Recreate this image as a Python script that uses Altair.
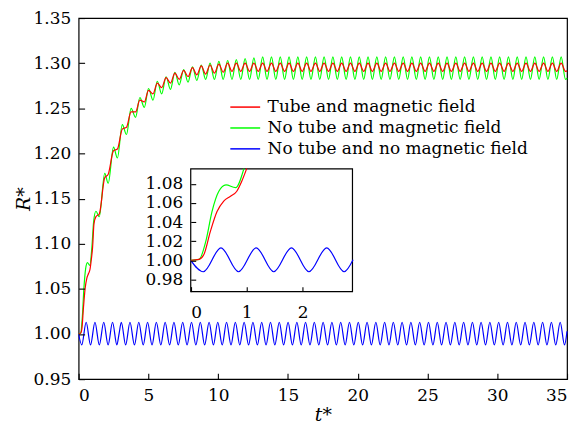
import altair as alt
import pandas as pd

# ---------------- data ----------------
series_names = ["Tube and magnetic field", "No tube and magnetic field", "No tube and no magnetic field"]
series_colors = ["#ff0000", "#00ff00", "#0000ff"]

x_ticks = [0, 5, 10, 15, 20, 25, 30, 35]
y_ticks = [0.95, 1.00, 1.05, 1.10, 1.15, 1.20, 1.25, 1.30, 1.35]
inset_x_ticks = [0, 1, 2]
inset_y_ticks = [0.98, 1.00, 1.02, 1.04, 1.06, 1.08]
inset_t_domain = [0.0, 2.89]
inset_R_domain = [0.9672, 1.0956]

# red (tube and magnetic field) - early rise
red_t_start = [0.0, 0.15, 0.235, 0.35, 0.47, 0.59, 0.71, 0.82, 0.91, 1.00, 1.10]
red_R_start = [1.000, 1.001, 1.006, 1.030, 1.051, 1.062, 1.067, 1.072, 1.0825, 1.096, 1.122]

# green (no tube and magnetic field) - early rise
green_t_start = [0.0, 0.15, 0.27, 0.38, 0.50, 0.63, 0.80, 0.95, 1.08]
green_R_start = [1.000, 1.001, 1.020, 1.051, 1.072, 1.079, 1.076, 1.096, 1.125]

# times of the peaks / troughs of the red and green curves
t_osc = [
    1.24, 1.48, 1.87, 2.12, 2.50, 2.78, 3.13, 3.43, 3.76, 4.08,
    4.39, 4.71, 5.01, 5.33, 5.64, 5.95, 6.27, 6.58, 6.90, 7.21,
    7.53, 7.84, 8.16, 8.47, 8.79, 9.10, 9.42, 9.73, 10.05, 10.36,
    10.68, 10.99, 11.30, 11.62, 11.93, 12.25, 12.56, 12.87, 13.19, 13.50,
    13.82, 14.13, 14.45, 14.76, 15.08, 15.39, 15.71, 16.02, 16.34, 16.65,
    16.97, 17.28, 17.59, 17.91, 18.22, 18.54, 18.85, 19.17, 19.48, 19.80,
    20.11, 20.43, 20.74, 21.05, 21.37, 21.68, 22.00, 22.31, 22.63, 22.94,
    23.26, 23.57, 23.88, 24.20, 24.51, 24.83, 25.14, 25.46, 25.77, 26.09,
    26.40, 26.71, 27.03, 27.34, 27.66, 27.97, 28.29, 28.60, 28.92, 29.23,
    29.55, 29.86, 30.17, 30.49, 30.80, 31.12, 31.43, 31.75, 32.06, 32.38,
    32.69, 33.00, 33.32, 33.63, 33.95, 34.26, 34.58, 34.89, 35.00,
]

green_R_osc = [
    1.136, 1.130, 1.178, 1.167, 1.207, 1.195, 1.232, 1.221, 1.250, 1.240,
    1.262, 1.251, 1.272, 1.259, 1.280, 1.266, 1.285, 1.271, 1.290, 1.276,
    1.293, 1.279, 1.296, 1.281, 1.298, 1.282, 1.300, 1.282, 1.302, 1.282,
    1.303, 1.282, 1.304, 1.282, 1.305, 1.282, 1.306, 1.282, 1.307, 1.282,
    1.307, 1.282, 1.307, 1.282, 1.307, 1.282, 1.307, 1.282, 1.307, 1.282,
    1.307, 1.282, 1.307, 1.282, 1.307, 1.282, 1.307, 1.282, 1.307, 1.282,
    1.307, 1.282, 1.307, 1.282, 1.307, 1.282, 1.307, 1.282, 1.307, 1.282,
    1.307, 1.282, 1.307, 1.282, 1.307, 1.282, 1.307, 1.282, 1.307, 1.282,
    1.307, 1.282, 1.307, 1.282, 1.307, 1.282, 1.307, 1.282, 1.307, 1.282,
    1.307, 1.282, 1.307, 1.282, 1.307, 1.282, 1.307, 1.282, 1.307, 1.282,
    1.307, 1.282, 1.307, 1.282, 1.307, 1.282, 1.307, 1.282, 1.2835,
]

red_R_osc = [
    1.130, 1.133, 1.173, 1.177, 1.203, 1.205, 1.227, 1.229, 1.246, 1.246,
    1.259, 1.257, 1.270, 1.266, 1.278, 1.273, 1.284, 1.278, 1.289, 1.282,
    1.292, 1.285, 1.295, 1.287, 1.297, 1.288, 1.298, 1.289, 1.299, 1.290,
    1.300, 1.291, 1.300, 1.291, 1.300, 1.291, 1.300, 1.291, 1.300, 1.291,
    1.300, 1.291, 1.300, 1.291, 1.300, 1.291, 1.300, 1.291, 1.300, 1.291,
    1.300, 1.291, 1.300, 1.291, 1.300, 1.291, 1.300, 1.291, 1.300, 1.291,
    1.300, 1.291, 1.300, 1.291, 1.300, 1.291, 1.300, 1.291, 1.300, 1.291,
    1.300, 1.291, 1.300, 1.291, 1.300, 1.291, 1.300, 1.291, 1.300, 1.291,
    1.300, 1.291, 1.300, 1.291, 1.300, 1.291, 1.300, 1.291, 1.300, 1.291,
    1.300, 1.291, 1.300, 1.291, 1.300, 1.291, 1.300, 1.291, 1.300, 1.291,
    1.300, 1.291, 1.300, 1.291, 1.300, 1.291, 1.300, 1.291, 1.2915,
]

# blue (no tube and no magnetic field): troughs / peaks
blue_t = [
    0.0, 0.225, 0.54, 0.854, 1.17, 1.483, 1.80, 2.112, 2.43, 2.741, 2.90,
    3.06, 3.37, 3.68, 4.00, 4.31, 4.63, 4.94, 5.26, 5.57, 5.89,
    6.20, 6.52, 6.83, 7.14, 7.46, 7.77, 8.09, 8.40, 8.72, 9.03,
    9.35, 9.66, 9.97, 10.29, 10.60, 10.92, 11.23, 11.55, 11.86, 12.18,
    12.49, 12.81, 13.12, 13.43, 13.75, 14.06, 14.38, 14.69, 15.01, 15.32,
    15.64, 15.95, 16.26, 16.58, 16.89, 17.21, 17.52, 17.84, 18.15, 18.47,
    18.78, 19.10, 19.41, 19.72, 20.04, 20.35, 20.67, 20.98, 21.30, 21.61,
    21.93, 22.24, 22.55, 22.87, 23.18, 23.50, 23.81, 24.13, 24.44, 24.76,
    25.07, 25.39, 25.70, 26.01, 26.33, 26.64, 26.96, 27.27, 27.59, 27.90,
    28.22, 28.53, 28.84, 29.16, 29.47, 29.79, 30.10, 30.42, 30.73, 31.05,
    31.36, 31.68, 31.99, 32.30, 32.62, 32.93, 33.25, 33.56, 33.88, 34.19,
    34.51, 34.82, 35.00,
]
blue_R = [
    1.000, 0.988, 1.013, 0.988, 1.013, 0.988, 1.013, 0.988, 1.013, 0.988, 1.0005,
    1.013, 0.988, 1.013, 0.988, 1.013, 0.988, 1.013, 0.988, 1.013, 0.988,
    1.013, 0.988, 1.013, 0.988, 1.013, 0.988, 1.013, 0.988, 1.013, 0.988,
    1.013, 0.988, 1.013, 0.988, 1.013, 0.988, 1.013, 0.988, 1.013, 0.988,
    1.013, 0.988, 1.013, 0.988, 1.013, 0.988, 1.013, 0.988, 1.013, 0.988,
    1.013, 0.988, 1.013, 0.988, 1.013, 0.988, 1.013, 0.988, 1.013, 0.988,
    1.013, 0.988, 1.013, 0.988, 1.013, 0.988, 1.013, 0.988, 1.013, 0.988,
    1.013, 0.988, 1.013, 0.988, 1.013, 0.988, 1.013, 0.988, 1.013, 0.988,
    1.013, 0.988, 1.013, 0.988, 1.013, 0.988, 1.013, 0.988, 1.013, 0.988,
    1.013, 0.988, 1.013, 0.988, 1.013, 0.988, 1.013, 0.988, 1.013, 0.988,
    1.013, 0.988, 1.013, 0.988, 1.013, 0.988, 1.013, 0.988, 1.013, 0.988,
    1.013, 0.988, 1.003,
]

# portion of each curve shown in the inset (curves leave the inset box there)
inset_t_limit = {series_names[0]: 1.00, series_names[1]: 0.95, series_names[2]: 2.90}

# ---------------- build table ----------------
frames = [
    pd.DataFrame({"t": red_t_start + t_osc, "R": red_R_start + red_R_osc, "series": series_names[0]}),
    pd.DataFrame({"t": green_t_start + t_osc, "R": green_R_start + green_R_osc, "series": series_names[1]}),
    pd.DataFrame({"t": blue_t, "R": blue_R, "series": series_names[2]}),
]
df = pd.concat(frames, ignore_index=True)

FONT = "'DejaVu Serif', 'Liberation Serif', serif"
W, H = 491, 363

color = alt.Color(
    "series:N",
    scale=alt.Scale(domain=series_names, range=series_colors),
    legend=alt.Legend(
        title=None, orient="none", legendX=159, legendY=81,
        symbolType="M-3,0H3", symbolSize=100, symbolStrokeWidth=1.5,
        labelFont=FONT, labelFontSize=17, labelColor="black",
        labelOffset=14, rowPadding=3, padding=0, labelLimit=400,
    ),
)

x_main = alt.X(
    "t:Q",
    scale=alt.Scale(domain=[0, 35], nice=False, zero=False),
    axis=alt.Axis(values=x_ticks, format="d", title="t*", offset=-6, tickSize=6,
                  labelPadding=8, domain=False, grid=False, titlePadding=3, zindex=1),
)
y_main = alt.Y(
    "R:Q",
    scale=alt.Scale(domain=[0.95, 1.35], nice=False, zero=False),
    axis=alt.Axis(values=y_ticks, format=".2f", title="R*", offset=-6, tickSize=6,
                  labelPadding=8, domain=False, grid=False, titlePadding=0, zindex=1),
)

x_in = alt.X(
    "t:Q",
    scale=alt.Scale(domain=inset_t_domain, range=[112.7, 275.3], nice=False, zero=False),
    axis=alt.Axis(orient="bottom", values=inset_x_ticks, format="d", title=None,
                  offset=-93, tickSize=5, labelPadding=13, domain=False, grid=False, zindex=2),
)
y_in = alt.Y(
    "R:Q",
    scale=alt.Scale(domain=inset_R_domain, range=[275.0, 151.7], nice=False, zero=False),
    axis=alt.Axis(orient="left", values=inset_y_ticks, format=".2f", title=None,
                  offset=-117.7, tickSize=5, labelPadding=8, domain=False, grid=False, zindex=2),
)

draw_order = [series_names[2], series_names[1], series_names[0]]

main_layers = []
for name in draw_order:
    main_layers.append(
        alt.Chart(df)
        .transform_filter(alt.datum.series == name)
        .mark_line(strokeWidth=1.2, interpolate="monotone")
        .encode(x=x_main, y=y_main, color=color)
    )
main = alt.layer(*main_layers)

frame_df = pd.DataFrame({
    "t": [inset_t_domain[0]], "t2": [inset_t_domain[1]],
    "R": [inset_R_domain[0]], "R2": [inset_R_domain[1]],
})
frame = alt.Chart(frame_df).mark_rect(fill="white", stroke="black", strokeWidth=1.2).encode(
    x=x_in, x2="t2:Q", y=y_in, y2="R2:Q"
)
inset_layers = [frame]
for name in draw_order:
    inset_layers.append(
        alt.Chart(df)
        .transform_filter((alt.datum.series == name) & (alt.datum.t <= inset_t_limit[name]))
        .mark_line(strokeWidth=1.2, interpolate="monotone")
        .encode(x=x_in, y=y_in, color=color)
    )
inset = alt.layer(*inset_layers)

chart = (
    alt.layer(main, inset)
    .resolve_scale(x="independent", y="independent", color="shared")
    .properties(
        width=W, height=H,
        autosize=alt.AutoSizeParams(type="none"),
        padding={"left": 71, "top": 9, "right": 6, "bottom": 48},
        background="white",
    )
    .configure(font=FONT)
    .configure_view(stroke="black", strokeWidth=1.2)
    .configure_axis(
        labelFont=FONT, labelFontSize=17, labelColor="black",
        tickColor="black", tickWidth=1.1,
        titleFont=FONT, titleFontSize=19, titleFontStyle="italic",
        titleFontWeight="normal", titleColor="black",
    )
    .configure_legend(labelFont=FONT)
)

chart.save("out.html", embed_options={"renderer": "svg", "actions": False})
